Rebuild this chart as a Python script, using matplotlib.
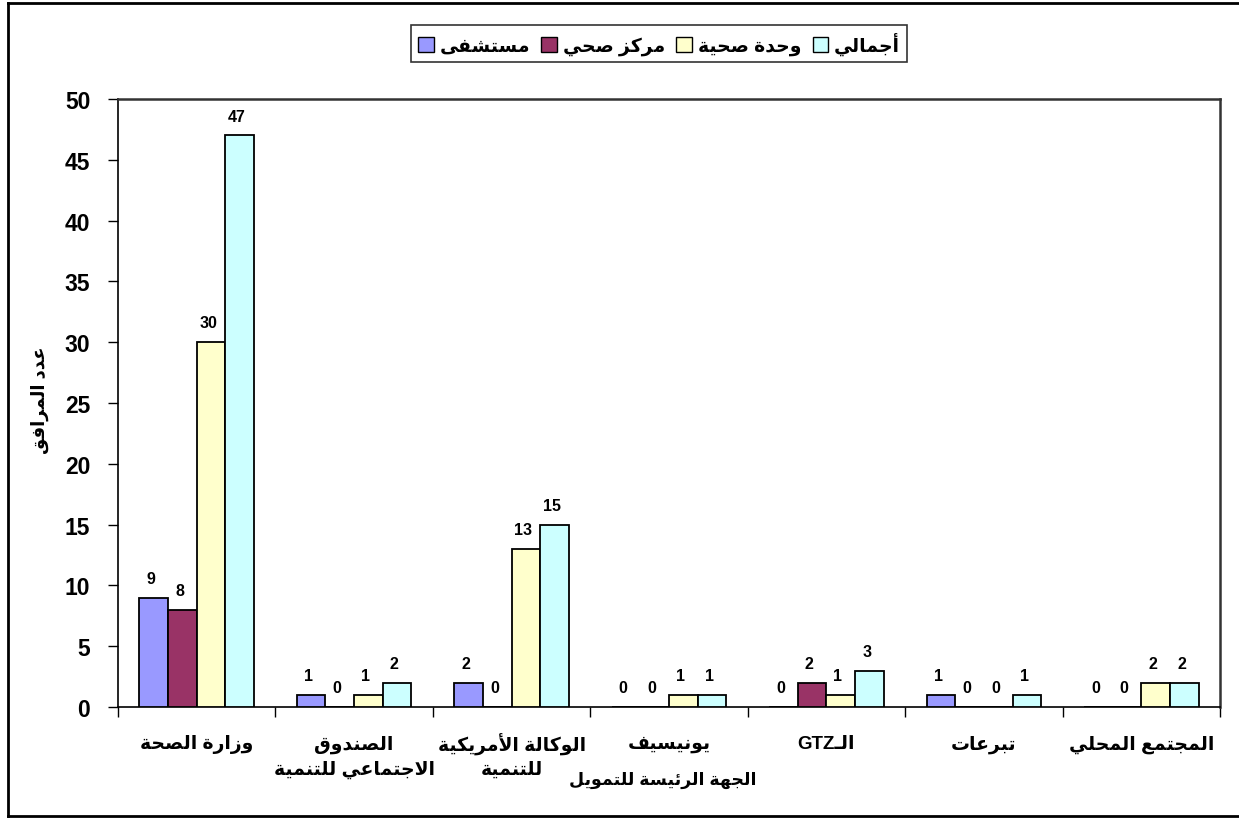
import matplotlib
matplotlib.use("Agg")
import matplotlib.pyplot as plt
from matplotlib.lines import Line2D
import numpy as np

# ---------------- data ----------------
categories = ["وزارة الصحة", "الصندوق\nالاجتماعي للتنمية", "الوكالة الأمريكية\nللتنمية",
              "يونيسيف", "الـGTZ", "تبرعات", "المجتمع المحلي"]
series_names = ["مستشفى", "مركز صحي", "وحدة صحية", "أجمالي"]
hospital = [9, 1, 2, 0, 0, 1, 0]
health_center = [8, 0, 0, 0, 2, 0, 0]
health_unit = [30, 1, 13, 1, 1, 0, 2]
total = [47, 2, 15, 1, 3, 1, 2]
y_ticks = [0, 5, 10, 15, 20, 25, 30, 35, 40, 45, 50]
y_label = "عدد المرافق"
x_label = "الجهة الرئيسة للتمويل"
colors = ["#9999FF", "#993366", "#FFFFCC", "#CCFFFF"]

# ---------------- minimal Arabic shaping ----------------
_ranges = [("ء", 0xFE80, 1), ("آ", 0xFE81, 2), ("أ", 0xFE83, 2), ("ؤ", 0xFE85, 2),
           ("إ", 0xFE87, 2), ("ئ", 0xFE89, 4), ("ا", 0xFE8D, 2), ("ب", 0xFE8F, 4),
           ("ة", 0xFE93, 2), ("ت", 0xFE95, 4), ("ث", 0xFE99, 4), ("ج", 0xFE9D, 4),
           ("ح", 0xFEA1, 4), ("خ", 0xFEA5, 4), ("د", 0xFEA9, 2), ("ذ", 0xFEAB, 2),
           ("ر", 0xFEAD, 2), ("ز", 0xFEAF, 2), ("س", 0xFEB1, 4), ("ش", 0xFEB5, 4),
           ("ص", 0xFEB9, 4), ("ض", 0xFEBD, 4), ("ط", 0xFEC1, 4), ("ظ", 0xFEC5, 4),
           ("ع", 0xFEC9, 4), ("غ", 0xFECD, 4), ("ف", 0xFED1, 4), ("ق", 0xFED5, 4),
           ("ك", 0xFED9, 4), ("ل", 0xFEDD, 4), ("م", 0xFEE1, 4), ("ن", 0xFEE5, 4),
           ("ه", 0xFEE9, 4), ("و", 0xFEED, 2), ("ى", 0xFEEF, 2), ("ي", 0xFEF1, 4)]
FORMS = {c: [chr(s + i) for i in range(n)] for c, s, n in _ranges}
TATWEEL = "ـ"
LAMALEF = {"ا": ("\uFEFB", "\uFEFC"), "أ": ("\uFEF7", "\uFEF8"),
           "إ": ("\uFEF9", "\uFEFA"), "آ": ("\uFEF5", "\uFEF6")}


def _dual(c):
    return c == TATWEEL or (c in FORMS and len(FORMS[c]) == 4)


def _joins(c):
    return c == TATWEEL or (c in FORMS and len(FORMS[c]) >= 2)


def shape(s):
    out = []
    i = 0
    n = len(s)
    while i < n:
        c = s[i]
        prev = s[i - 1] if i > 0 else ""
        con_prev = bool(prev) and _dual(prev) and _joins(c)
        if c == "ل" and i + 1 < n and s[i + 1] in LAMALEF:
            out.append(LAMALEF[s[i + 1]][1 if con_prev else 0])
            i += 2
            continue
        if c not in FORMS:
            out.append(c)
            i += 1
            continue
        nxt = s[i + 1] if i + 1 < n else ""
        con_next = _dual(c) and bool(nxt) and _joins(nxt)
        f = FORMS[c]
        if con_prev and con_next:
            g = f[3]
        elif con_prev:
            g = f[1] if len(f) > 1 else f[0]
        elif con_next:
            g = f[2]
        else:
            g = f[0]
        out.append(g)
        i += 1
    return "".join(out)


def visual_line(s):
    shaped = shape(s)
    runs = []
    for ch in shaped:
        ltr = ch.isascii() and ch.isalnum()
        if runs and runs[-1][0] == ltr:
            runs[-1][1] += ch
        else:
            runs.append([ltr, ch])
    parts = [r[1] if r[0] else r[1][::-1] for r in runs]
    return "".join(parts[::-1])


def ar(s):
    return "\n".join(visual_line(line) for line in s.split("\n"))


FAM = ["Liberation Sans", "DejaVu Sans"]
plt.rcParams["font.family"] = FAM
plt.rcParams["font.weight"] = "bold"

# ---------------- figure ----------------
W, H = 1239, 820
fig = plt.figure(figsize=(W / 100, H / 100), dpi=100)
ax_top, ax_bot = 100, 708
ax = fig.add_axes([118 / W, 1 - ax_bot / H, (1220 - 118) / W, (ax_bot - ax_top) / H])

x = np.arange(len(categories))
bw = 0.182
all_series = [hospital, health_center, health_unit, total]
for k, (vals, col, name) in enumerate(zip(all_series, colors, series_names)):
    pos = x + (k - 1.5) * bw
    ax.bar(pos, vals, bw, color=col, edgecolor="black", linewidth=1.3,
           label=ar(name), zorder=3)
    for p, v in zip(pos, vals):
        ax.annotate(str(v), (p, v), xytext=(-2, 14), textcoords="offset points",
                    ha="center", va="center", fontsize=11.5, fontweight="bold")

ax.set_xlim(-0.5, len(categories) - 0.5)
ax.set_ylim(0, 50)
ax.set_yticks(y_ticks)
ax.set_yticklabels([str(t) for t in y_ticks], fontsize=16.5, fontweight="bold")
ax.set_xticks(np.arange(-0.5, len(categories), 1.0))
ax.set_xticklabels([])
ax.tick_params(axis="x", which="major", direction="out", length=7, width=1)
ax.tick_params(axis="y", direction="out", length=7, width=1, pad=13)

# category labels, one text per line
line_y_px = [745, 770]
for xi, cat in zip(x, categories):
    for li, line in enumerate(cat.split("\n")):
        yfrac = (ax_bot - line_y_px[li]) / (ax_bot - ax_top)
        ax.text(xi, yfrac, ar(line), transform=ax.get_xaxis_transform(),
                ha="center", va="center", fontsize=13.5, fontweight="bold",
                clip_on=False)

for s in ["left", "bottom"]:
    ax.spines[s].set_color("black")
    ax.spines[s].set_linewidth(1.2)
for s in ["top", "right"]:
    ax.spines[s].set_color("#333333")
    ax.spines[s].set_linewidth(1.8)

fig.text(40 / W, 1 - 400 / H, ar(y_label), rotation=90, ha="center", va="center",
         fontsize=13, fontweight="bold")

fig.text(663 / W, 1 - 780 / H, ar(x_label), ha="center", va="center",
         fontsize=12.5, fontweight="bold")

leg = fig.legend(loc="center", bbox_to_anchor=(659 / W, 1 - 44.5 / H), ncol=4,
                 frameon=True, fancybox=False, edgecolor="black",
                 handlelength=0.85, handleheight=0.85, handletextpad=0.3,
                 columnspacing=0.6, borderpad=0.35,
                 prop={"weight": "bold", "size": 13.5, "family": FAM})
leg.get_frame().set_linewidth(1.2)
for h in leg.legend_handles:
    h.set_linewidth(1.0)

# outer frame
lw = 2.0
fig.add_artist(Line2D([8 / W, 8 / W], [1 - 817 / H, 1 - 4 / H], color="black", lw=lw,
                      transform=fig.transFigure))
fig.add_artist(Line2D([8 / W, 1.0], [1 - 4 / H, 1 - 4 / H], color="black", lw=lw,
                      transform=fig.transFigure))
fig.add_artist(Line2D([8 / W, 1.0], [1 - 817 / H, 1 - 817 / H], color="black", lw=lw,
                      transform=fig.transFigure))

fig.savefig("out.png", dpi=100)
